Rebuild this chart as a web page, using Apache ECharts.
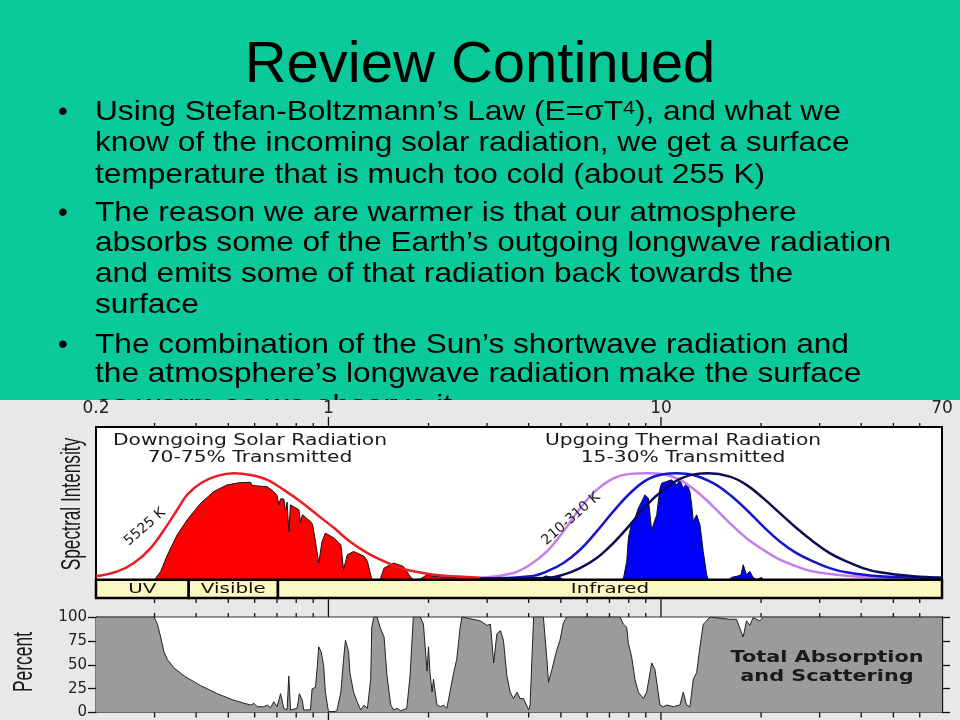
<!DOCTYPE html>
<html><head><meta charset="utf-8">
<script src="https://cdn.jsdelivr.net/npm/echarts@6/dist/echarts.min.js"></script>
<style>html,body{margin:0;padding:0;background:#e8e8e8;}#c{width:960px;height:720px;}</style>
</head><body><div id="c"></div>
<script>
// ---------- slide text ----------
const slideTitle = 'Review Continued';
const bulletLines = [
  ['Using Stefan-Boltzmann\u2019s Law (E=\u03c3T{sup|4}), and what we',
   'know of the incoming solar radiation, we get a surface',
   'temperature that is much too cold (about 255 K)'],
  ['The reason we are warmer is that our atmosphere',
   'absorbs some of the Earth\u2019s outgoing longwave radiation',
   'and emits some of that radiation back towards the',
   'surface'],
  ['The combination of the Sun\u2019s shortwave radiation and',
   'the atmosphere\u2019s longwave radiation make the surface',
   'as warm as we observe it']
];

// ---------- axis ticks (wavelength, micrometres) ----------
const xMin = 0.2, xMax = 70;
const xTickLabels = [0.2, 1, 10, 70];
const xMajorTicks = [1, 10];
const xMinorTicks = [0.3,0.4,0.5,0.6,0.7,0.8,0.9,2,3,4,5,6,7,8,9,20,30,40,50,60];

// ---------- spectral bands ----------
const bandNames = ['UV', 'Visible', 'Infrared'];
const bandStart = [0.2, 0.38, 0.705];
const bandEnd   = [0.38, 0.705, 70];

// ---------- 5525 K black body (solar) ----------
const bbSunX = [0.2,0.232,0.26,0.292,0.328,0.351,0.376,0.413,0.463,0.519,0.583,0.655,0.734,0.824,0.925,1.04,1.16,1.31,1.47,1.65,1.85,2.07,2.61,2.86,3.5,4.5];
const bbSunY = [2.2,5.4,10.9,20.7,35.9,45.8,55.6,63.2,68,69.7,68.6,65.4,58.8,51.2,42.5,33.8,25,17.4,12,7.6,5,3.3,1.7,1.3,0.6,0.2];

// ---------- downgoing solar radiation transmitted ----------
const solarX = [0.3,0.313,0.328,0.351,0.376,0.413,0.452,0.496,0.544,0.583,0.59,0.597,0.655,0.685,0.701,0.709,0.718,0.734,0.743,0.751,0.76,0.769,0.787,0.815,0.824,0.835,0.883,0.895,0.914,0.935,0.957,0.979,1.04,1.09,1.11,1.14,1.19,1.28,1.31,1.35,1.43,1.47,1.57,1.68,1.76,1.8,1.89,1.98,2.07,2.32,2.61,2.86,3.0,3.3];
const solarY = [0,5.4,16.3,29.4,39.2,50.1,57.7,62.1,63.6,63.8,61.7,62.5,60.8,57.7,55.1,49,52.9,52.9,44.7,50.8,31.6,49,47.7,45.8,37.7,42.5,38.1,36.4,25.1,10.9,25.1,30.5,27.2,22.9,6.5,16.3,18.5,15.3,12,0,0,7.6,10.9,8.7,2.2,0,0.4,3.3,2.2,1.5,1.5,1.1,0.5,0];

// ---------- 210-310 K black bodies (thermal) ----------
const bb310X = [2.86,3.6,4.04,4.54,5.09,5.71,6.41,7.19,8.07,9.06,10.16,11.4,12.8,14.36,16.11,18.08,20.29,22.77,25.55,28.67,36.1,45.5,70];
const bb310Y = [1.1,4.4,9.8,18.5,31.6,46.8,58.8,66.4,69.3,69.7,69.1,65.4,57.7,47.9,37,27.2,19.6,13.1,8.7,5.4,2.6,1.5,1.1];
const bb260X = [2.86,4.04,4.54,5.09,5.71,6.41,7.19,8.07,9.06,10.16,11.14,12.51,14.36,16.11,18.08,20.29,22.77,25.55,28.67,32.17,36.1,45.5,70];
const bb260Y = [0.7,2.2,5.4,10.9,19.6,31.6,44.7,56.6,65.4,69.1,69.7,68.6,63.2,55.6,45.8,34.9,25,17.4,12,7.6,4.8,2.2,1.1];
const bb210X = [2.86,4.54,5.09,5.71,6.41,7.19,8.07,9.06,10.16,11.4,12.8,13.87,16.11,18.08,20.29,22.77,25.55,28.67,32.17,36.1,40.5,45.5,57.3,70];
const bb210Y = [0.7,1.1,3.3,7.6,14.2,24,35.9,49,58.8,66,69.3,69.7,67.5,62.1,53.4,43.6,33.8,25,17.4,12,7.6,4.8,2.2,1.3];

// ---------- upgoing thermal radiation transmitted ----------
const thermalX = [4.3,4.5,4.7,4.9,5.1,7.6,7.71,7.89,7.98,8.16,8.35,8.55,8.75,8.95,9.16,9.27,9.38,9.48,9.71,9.93,10.05,10.4,10.77,11.14,11.4,11.67,11.94,12.08,12.22,12.37,12.51,12.8,13.1,13.4,13.72,13.87,16.0,16.3,16.87,17.4,17.67,18.08,18.5,18.93,19.4,20.06,20.3];
const thermalY = [0,2.5,1.5,2.2,0,0,0.7,12,27.2,37,40.3,46.8,51.2,55.6,53.4,42.5,31.6,35.9,42.5,59.9,63.2,64.3,65.4,62.1,65.4,59.9,63.2,64.3,57.7,49,38.1,42.5,35.9,18.5,3.3,0,0,1.5,2.2,3,9.8,3.3,5.4,1.5,0,1.5,0];

// ---------- total absorption and scattering (%) ----------
const absorbX = [0.2,0.299,0.306,0.313,0.32,0.328,0.343,0.368,0.413,0.463,0.519,0.583,0.597,0.611,0.639,0.655,0.67,0.685,0.701,0.718,0.726,0.734,0.751,0.76,0.769,0.805,0.818,0.834,0.843,0.883,0.893,0.914,0.925,0.935,0.951,0.968,0.979,1.0,1.04,1.06,1.09,1.11,1.125,1.15,1.16,1.19,1.22,1.25,1.28,1.31,1.34,1.35,1.37,1.4,1.43,1.47,1.5,1.54,1.57,1.61,1.65,1.72,1.76,1.8,1.89,1.93,1.98,2.0,2.02,2.05,2.07,2.12,2.17,2.22,2.27,2.32,2.38,2.43,2.49,2.52,2.86,3.0,3.07,3.14,3.21,3.29,3.36,3.44,3.52,3.6,3.69,3.77,3.86,4.0,4.04,4.14,4.43,4.54,4.59,4.7,4.86,4.97,5.09,5.21,7.53,7.71,7.89,7.98,8.16,8.35,8.55,8.85,9.06,9.38,9.59,9.93,10.16,10.4,10.89,11.4,11.67,11.94,12.22,12.51,12.8,13.1,13.4,13.72,14.04,16.11,16.87,17.67,18.08,18.5,18.93,19.83,20.29,70];
const absorbY = [100,100,92.5,79,63.7,55.3,46.8,38.3,28.1,19.7,12.9,7.8,9.5,6.1,6.1,7.8,5.1,11.2,6.1,19.7,19.7,4.4,2.7,38.3,2.7,4.4,19.7,12.9,2.7,2.7,24.7,26.4,46.8,68.8,63.7,48.5,21.4,1,1,1.7,21.4,55.3,75.6,63.7,41.7,21.4,11.2,2.7,7.8,4.4,34.9,89.2,100,100,89.2,79,38.3,7.8,2.7,4.4,1.7,4.4,38.3,100,100,92.5,43.4,68.8,41.7,21.4,34.9,7.8,6.1,7.8,4.4,21.4,41.7,55.3,89.2,100,96,91.2,92.5,51.9,82.4,85.8,75.6,38.3,21.4,14.6,21.4,14.6,14.6,2.7,7.8,100,100,55.3,31.5,45.1,65.4,75.6,94.2,100,100,92.5,89.2,72.2,58.6,34.9,21.4,14.6,21.4,51.9,45.1,7.8,6.1,7.8,6.1,7.8,21.4,7.8,6.1,34.9,41.7,68.8,92.5,96,100,97.6,97.6,79,96,91.2,99.3,96,100,100];

// ---------- build ----------
const zip = (xs, ys) => xs.map((x, i) => [x, ys[i]]);
const OFF = () => ({show: false});
const slideFont = '"Liberation Sans", Arial, sans-serif';
const chartFont = '"DejaVu Sans", sans-serif';

function logAxis(grid) {
  return {type: 'log', logBase: 10, gridIndex: grid, min: xMin, max: xMax, show: false,
          axisLine: {show: false, onZero: false}, axisTick: OFF(), axisLabel: OFF(), splitLine: OFF()};
}
// tick marks drawn through the log scale of each grid
function tickSeries(xAxisIndex, yAxisIndex, yLo, yHi, topLen, botLen) {
  const all = xMinorTicks.concat(xMajorTicks);
  return {
    type: 'custom', name: 'ticks', xAxisIndex: xAxisIndex, yAxisIndex: yAxisIndex, z: 6, silent: true,
    data: all.map(v => [v, yLo]), encode: {x: 0, y: 1},
    renderItem: function (params, api) {
      const v = api.value(0);
      const major = xMajorTicks.indexOf(v) >= 0;
      const t = api.coord([v, yHi]), b = api.coord([v, yLo]);
      const lt = major ? topLen[1] : topLen[0], lb = major ? botLen[1] : botLen[0];
      const st = {stroke: '#111', lineWidth: 1.3};
      return {type: 'group', children: [
        {type: 'line', shape: {x1: t[0], y1: t[1], x2: t[0], y2: t[1] - lt}, style: st},
        {type: 'line', shape: {x1: b[0], y1: b[1], x2: b[0], y2: b[1] + lb}, style: st}
      ]};
    }
  };
}
// wavelength labels above the top panel, placed through the log scale
const labelSeries = {
  type: 'custom', name: 'xLabels', xAxisIndex: 0, yAxisIndex: 0, z: 6, silent: true,
  data: xTickLabels.map(v => [v, 100]), encode: {x: 0, y: 1},
  renderItem: function (params, api) {
    const p = api.coord([api.value(0), 100]);
    return {type: 'text', x: p[0], y: p[1] - 18,
      style: {text: String(xTickLabels[params.dataIndex]), font: '17px ' + chartFont, fill: '#222',
              align: 'center', verticalAlign: 'middle'}};
  }
};

const bulletBaselines = [[121.7,153.3,185],[223.3,253.3,284.3,315],[355,384.3,416]];
const graphics = [
  {type: 'rect', z: -3, silent: true, shape: {x: 0, y: 0, width: 960, height: 400}, style: {fill: '#0bca9a'}},
  {type: 'text', z: -2, x: 480, y: 66, style: {text: slideTitle, font: '58px ' + slideFont, fill: '#000',
    align: 'center', textAlign: 'center', verticalAlign: 'middle', textVerticalAlign: 'middle'}}
];
bulletLines.forEach((lines, b) => {
  graphics.push({type: 'text', z: -2, x: 63, y: bulletBaselines[b][0] - 9.7,
    style: {text: '\u2022', font: '28px ' + slideFont, fill: '#000', align: 'center', verticalAlign: 'middle'}});
  lines.forEach((t, i) => {
    graphics.push({type: 'text', z: -2, x: 95, y: bulletBaselines[b][i] - 9.7, scaleX: 1.13,
      style: {text: t, font: '28px ' + slideFont, fill: '#000', align: 'left', verticalAlign: 'middle',
        rich: {sup: {font: '19px ' + slideFont, fill: '#000', verticalAlign: 'middle', padding: [0, 0, 7, 0]}}}});
  });
});
graphics.push({type: 'rect', z: -1, silent: true, shape: {x: 0, y: 400, width: 960, height: 320}, style: {fill: '#e8e8e8'}});
function note(text, x, y, font, sx, rot) {
  graphics.push({type: 'text', z: 50, x: x, y: y, scaleX: sx || 1, rotation: rot || 0,
    style: {text: text, font: font, fill: '#1a1a1a', align: 'center', verticalAlign: 'middle'}});
}
note('Downgoing Solar Radiation', 250, 441, '15px ' + chartFont, 1.35);
note('70-75% Transmitted', 250, 458, '15px ' + chartFont, 1.35);
note('Upgoing Thermal Radiation', 683, 441, '15px ' + chartFont, 1.35);
note('15-30% Transmitted', 683, 458, '15px ' + chartFont, 1.35);
note('5525 K', 145, 527, '14px ' + chartFont, 1, 41 * Math.PI / 180);
note('210-310 K', 571, 519, '14px ' + chartFont, 1, 41 * Math.PI / 180);
note('Total Absorption', 827, 658, 'bold 16px ' + chartFont, 1.3);
note('and Scattering', 827, 677, 'bold 16px ' + chartFont, 1.3);
note('Spectral Intensity', 73, 504, '27px ' + slideFont, 0.64, Math.PI / 2);
note('Percent', 25, 662, '27px ' + slideFont, 0.645, Math.PI / 2);

const lineBase = {type: 'line', symbol: 'none', showSymbol: false, xAxisIndex: 0, yAxisIndex: 0, animation: false};
const TICK = {color: '#111', width: 1.3};

const option = {
  animation: false,
  backgroundColor: '#e8e8e8',
  graphic: {elements: graphics},
  grid: [
    {left: 96, top: 427, width: 846, height: 171, show: true, backgroundColor: '#fff', borderColor: '#000', borderWidth: 2},
    {left: 96, top: 617, width: 846, height: 99, show: true, backgroundColor: '#fff', borderColor: '#333', borderWidth: 1}
  ],
  xAxis: [logAxis(0), logAxis(1)],
  yAxis: [
    {type: 'value', gridIndex: 0, min: -12, max: 100, show: false, splitLine: OFF()},
    {type: 'value', gridIndex: 1, position: 'left', min: 0, max: 100, interval: 25,
     axisLine: {show: true, onZero: false, lineStyle: {color: '#111', width: 1.3}},
     axisTick: {show: true, inside: false, length: 8, lineStyle: TICK},
     axisLabel: {fontFamily: 'DejaVu Sans', fontSize: 15, color: '#222', margin: 9},
     splitLine: OFF()},
    {type: 'value', gridIndex: 1, position: 'right', min: 0, max: 100, interval: 25,
     axisLine: {show: true, onZero: false, lineStyle: {color: '#111', width: 1.3}},
     axisTick: {show: true, inside: false, length: 8, lineStyle: TICK},
     axisLabel: OFF(), splitLine: OFF()}
  ],
  series: [
    Object.assign({}, lineBase, {name: 'Solar transmitted', data: zip(solarX, solarY), z: 2,
      lineStyle: {color: '#111', width: 1}, areaStyle: {color: '#ff0000', opacity: 1}}),
    Object.assign({}, lineBase, {name: 'Thermal transmitted', data: zip(thermalX, thermalY), z: 2,
      lineStyle: {color: '#111', width: 1}, areaStyle: {color: '#0000ff', opacity: 1}}),
    Object.assign({}, lineBase, {name: '5525 K', data: zip(bbSunX, bbSunY), smooth: 0.4, z: 3,
      lineStyle: {color: '#ec1c24', width: 2.5}}),
    Object.assign({}, lineBase, {name: '310 K', data: zip(bb310X, bb310Y), smooth: 0.4, z: 3,
      lineStyle: {color: '#c47ef0', width: 2.5}}),
    Object.assign({}, lineBase, {name: '260 K', data: zip(bb260X, bb260Y), smooth: 0.4, z: 3,
      lineStyle: {color: '#1515cc', width: 2.5}}),
    Object.assign({}, lineBase, {name: '210 K', data: zip(bb210X, bb210Y), smooth: 0.4, z: 3,
      lineStyle: {color: '#0c0c55', width: 2.5}}),
    {type: 'custom', name: 'Bands', xAxisIndex: 0, yAxisIndex: 0, z: 4,
     data: bandStart.map((s, i) => [s, bandEnd[i]]),
     encode: {x: [0, 1]},
     renderItem: function (params, api) {
       const p0 = api.coord([api.value(0), 0]);
       const p1 = api.coord([api.value(1), -12]);
       return {type: 'group', children: [
         {type: 'rect', shape: {x: p0[0], y: p0[1], width: p1[0] - p0[0], height: p1[1] - p0[1]},
          style: {fill: '#fcf8c2', stroke: '#000', lineWidth: 2.5}},
         {type: 'text', x: (p0[0] + p1[0]) / 2, y: (p0[1] + p1[1]) / 2 + 1, scaleX: 1.42,
          style: {text: bandNames[params.dataIndex], font: '14px ' + chartFont, fill: '#111',
                  align: 'center', verticalAlign: 'middle'}}
       ]};
     }},
    {type: 'line', name: 'Total Absorption and Scattering', symbol: 'none', showSymbol: false,
     xAxisIndex: 1, yAxisIndex: 1, data: zip(absorbX, absorbY), z: 2,
     lineStyle: {color: '#222', width: 1}, areaStyle: {color: '#9b9b9b', opacity: 1, origin: 'start'}},
    tickSeries(0, 0, -12, 100, [4, 10], [5, 9]),
    tickSeries(1, 1, 0, 100, [4, 10], [5, 8]),
    labelSeries
  ]
};

const chart = echarts.init(document.getElementById('c'), null, {renderer: 'canvas'});
chart.setOption(option);
</script></body></html>
